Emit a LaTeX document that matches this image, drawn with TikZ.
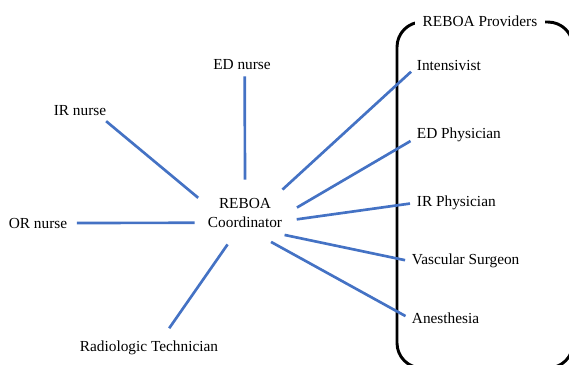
\documentclass[tikz,border=0pt]{standalone}
\usepackage{fontspec}
\setmainfont{Liberation Serif}
\usepackage{tikz}
\usetikzlibrary{shapes}
\definecolor{linkblue}{RGB}{68,114,196}
\tikzstyle{role} = [inner sep=2pt, font=\fontsize{11.5}{14}\selectfont]
\tikzstyle{hub} = [role, ellipse, minimum width=75pt, minimum height=49.5pt,
inner sep=0pt, align=center]
\tikzstyle{link} = [draw=linkblue, line width=2pt]
\tikzstyle{group} = [draw=black, line width=2.2pt, rounded corners=18.75pt]

\begin{document}
\begin{tikzpicture}[x=0.75pt,y=-0.75pt]
  \useasboundingbox (0,0) rectangle (569,365);
  \clip (0,0) rectangle (569,365);
  % providers box
  \draw[group] (397,22) rectangle (573,368);
  \node[role, fill=white, inner xsep=6pt](prov) at (480,21) {REBOA Providers};
  % nodes
  \node[hub](hub) at (245,213) {REBOA\\Coordinator};
  \node[role](edn) at (242,65) {ED nurse};
  \node[role](irn) at (80,111) {IR nurse};
  \node[role](orn) at (38,223) {OR nurse};
  \node[role](rad) at (149,348) {Radiologic Technician};
  \node[role, anchor=west](int) at (414,65) {Intensivist};
  \node[role, anchor=west](edp) at (414,135) {ED Physician};
  \node[role, anchor=west](irp) at (414,203) {IR Physician};
  \node[role, anchor=west](vas) at (409,261) {Vascular Surgeon};
  \node[role, anchor=west](ane) at (409,318) {Anesthesia};
  % links
  \path (hub.90) edge[link, shorten >=2.5pt] ([xshift=2pt]edn.south);
  \path (hub.162) edge[link, shorten >=1pt] ([xshift=-3pt,yshift=-1pt]irn.south east);
  \path (hub.191) edge[link, shorten >=5pt] (orn.east);
  \path (hub.241) edge[link, shorten >=9pt] ([xshift=10pt]rad.north);
  \path (hub.32) edge[link, shorten >=3pt] ([yshift=-3pt]int.west);
  \path (hub.6) edge[link, shorten >=3pt] ([yshift=-3pt]edp.west);
  \path (hub.-7) edge[link, shorten >=3pt] (irp.west);
  \path (hub.-29) edge[link, shorten >=3pt] (vas.west);
  \path (hub.-48) edge[link, shorten >=3pt] (ane.west);
\end{tikzpicture}
\end{document}
